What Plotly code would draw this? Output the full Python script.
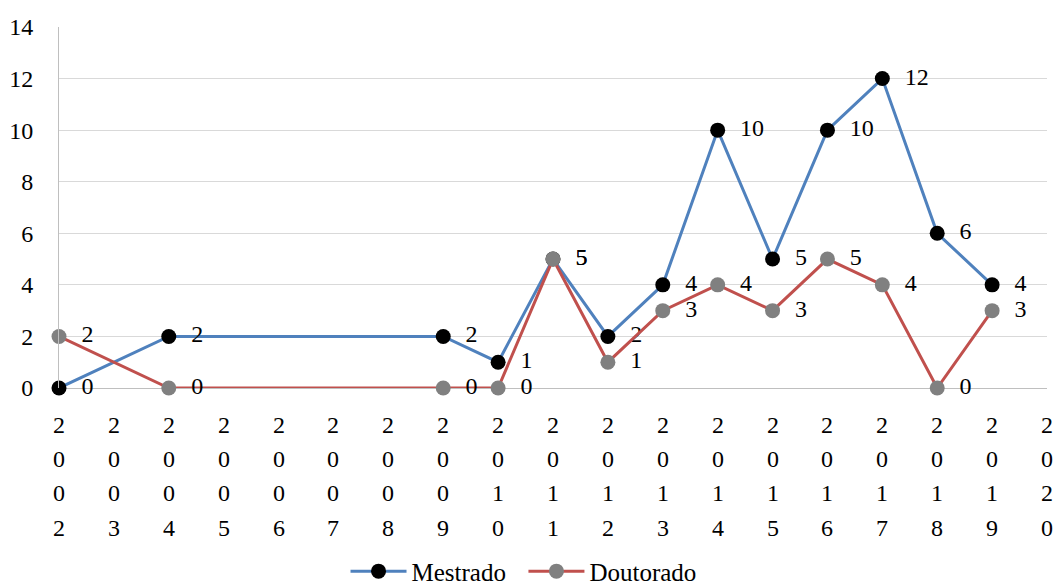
import plotly.graph_objects as go

years = [2002, 2004, 2009, 2010, 2011, 2012, 2013, 2014, 2015, 2016, 2017, 2018, 2019]
mestrado = [0, 2, 2, 1, 5, 2, 4, 10, 5, 10, 12, 6, 4]
doutorado = [2, 0, 0, 0, 5, 1, 3, 4, 3, 5, 4, 0, 3]
axis_years = list(range(2002, 2021))
y_ticks = [0, 2, 4, 6, 8, 10, 12, 14]

FONT = "'Liberation Serif', 'Times New Roman', 'DejaVu Serif', serif"

fig = go.Figure()
fig.add_trace(go.Scatter(
    x=years, y=mestrado, name="Mestrado\u00a0\u00a0", mode="lines+markers+text",
    line=dict(color="#4F81BD", width=3),
    marker=dict(color="black", size=15),
    text=["  " + str(v) for v in mestrado], textposition="middle right",
    textfont=dict(family=FONT, size=24, color="black"),
))
fig.add_trace(go.Scatter(
    x=years, y=doutorado, name="Doutorado", mode="lines+markers+text",
    line=dict(color="#C0504D", width=3),
    marker=dict(color="#808080", size=15),
    text=["  " + str(v) for v in doutorado], textposition="middle right",
    textfont=dict(family=FONT, size=24, color="black"),
))

row_y = [-0.1025, -0.1967, -0.291, -0.388]
for yr in axis_years:
    for i, ch in enumerate(str(yr)):
        fig.add_annotation(x=yr, y=row_y[i], xref="x", yref="paper", text=ch,
                           showarrow=False, font=dict(family=FONT, size=24, color="black"),
                           xanchor="center", yanchor="middle")

fig.update_layout(
    width=1057, height=588,
    margin=dict(l=59, r=10, t=27, b=200, autoexpand=False),
    plot_bgcolor="white", paper_bgcolor="white",
    font=dict(family=FONT, size=24, color="black"),
    showlegend=True,
    legend=dict(orientation="h", x=0.29, xanchor="left", y=-0.508, yanchor="middle",
                font=dict(family=FONT, size=25, color="black"), itemwidth=56,
                traceorder="normal"),
    xaxis=dict(range=[2002, 2020], showticklabels=False, showgrid=False, zeroline=False,
               showline=False, ticks="", automargin=False),
    yaxis=dict(range=[0, 14], tickvals=y_ticks, showgrid=True, gridcolor="#D9D9D9", gridwidth=1,
               zeroline=True, zerolinecolor="#BFBFBF", zerolinewidth=1,
               showline=True, linecolor="#BFBFBF", linewidth=1, ticks="", automargin=False,
               ticklabelstandoff=20, tickfont=dict(family=FONT, size=24, color="black")),
)
fig.update_traces(cliponaxis=False)

fig.write_html("out.html", config={"displayModeBar": False},
               post_script="document.body.style.margin='0';document.body.style.padding='0';")
